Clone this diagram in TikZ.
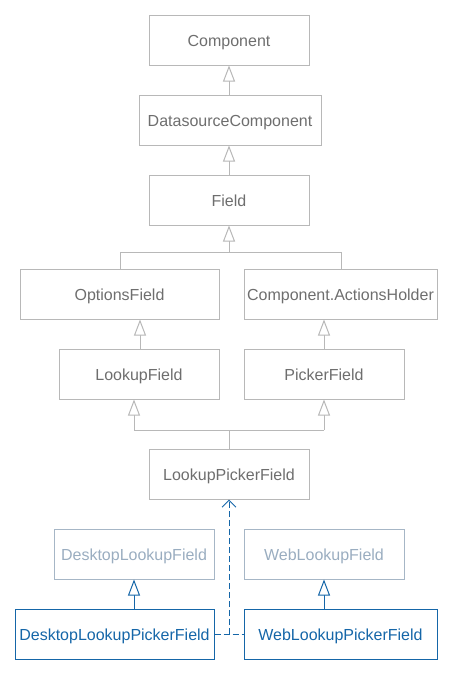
\documentclass[tikz,border=0pt]{standalone}
\usepackage{fontspec}
\setmainfont{Liberation Sans}
\usetikzlibrary{arrows.meta}
\definecolor{lineg}{HTML}{B8B8B8}
\definecolor{textg}{HTML}{6E6E6E}
\definecolor{paleb}{HTML}{A6B6C6}
\definecolor{palet}{HTML}{9AADC0}
\definecolor{blue1}{HTML}{1566A8}
\begin{document}
\begin{tikzpicture}[x=1pt,y=-1pt,
  cls/.style={draw=lineg, line width=1pt, text=textg, minimum height=50pt, inner sep=0pt, text height=13pt, text depth=0pt, font=\fontsize{16}{18}\selectfont},
  pale/.style={cls, draw=paleb, text=palet},
  bluebox/.style={cls, draw=blue1, text=blue1},
  gen/.style={draw=lineg, line width=1pt, -{Triangle[open, length=16pt, width=12pt, fill=white]}},
  genb/.style={draw=blue1, line width=1pt, -{Triangle[open, length=16pt, width=12pt, fill=white]}},
  ln/.style={draw=lineg, line width=1pt},
  dep/.style={draw=blue1, line width=1pt, dash pattern=on 6pt off 3pt},
]
\useasboundingbox (0,0) rectangle (453,675);
\node[cls, minimum width=160pt] (comp) at (229,40) {Component};
\node[cls, minimum width=182pt] (ds) at (230,120) {DatasourceComponent};
\node[cls, minimum width=160pt] (field) at (229,200) {Field};
\node[cls, minimum width=199pt] (opt) at (119.5,294) {OptionsField};
\node[cls, minimum width=193pt] (ah) at (340.5,294) {Component.ActionsHolder};
\node[cls, minimum width=160pt] (lf) at (139,374) {LookupField};
\node[cls, minimum width=160pt] (pf) at (324,374) {PickerField};
\node[cls, minimum width=160pt] (lpf) at (229,474) {LookupPickerField};
\node[pale, minimum width=160pt] (dlf) at (134,554) {DesktopLookupField};
\node[pale, minimum width=160pt] (wlf) at (324,554) {WebLookupField};
\node[bluebox, minimum width=199pt] (dlpf) at (114.5,634) {DesktopLookupPickerField};
\node[bluebox, minimum width=193pt] (wlpf) at (340.5,634) {WebLookupPickerField};
% generalizations
\draw[gen] (ds.north -| comp.south) -- (comp.south);
\draw[gen] (field.north) -- (field.north |- ds.south);
\coordinate (j1) at (229,252);
\coordinate (j1l) at (120,252);
\coordinate (j1r) at (341,252);
\draw[gen] (j1) -- (field.south);
\draw[ln] (j1l |- opt.north) -- (j1l) -- (j1r) -- (j1r |- ah.north);
\draw[gen] (lf.north -| 140,0) -- (opt.south -| 140,0);
\coordinate (j2) at (229,430);
\coordinate (j2l) at (134,430);
\coordinate (j2r) at (324,430);
\draw[ln] (j2l) -- (j2r);
\draw[ln] (j2) -- (lpf.north);
\draw[gen] (j2l) -- (j2l |- lf.south);
\draw[gen] (j2r) -- (pf.south);
\draw[gen] (pf.north) -- (pf.north |- ah.south);
\draw[genb] (dlpf.north -| dlf.south) -- (dlf.south);
\draw[genb] (wlpf.north -| wlf.south) -- (wlf.south);
% dependency
\draw[dep] (dlpf.east) -- (wlpf.west);
\draw[dep, -{Straight Barb[length=7pt, width=14pt]}] (dlpf.east -| lpf.south) -- (lpf.south);
\end{tikzpicture}
\end{document}
